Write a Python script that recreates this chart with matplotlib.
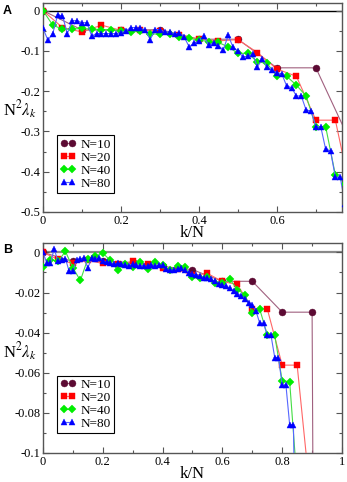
import numpy as np
import matplotlib
matplotlib.use("Agg")
import matplotlib.pyplot as plt
from matplotlib.ticker import MultipleLocator

plt.rcParams['font.family'] = ['Liberation Serif', 'DejaVu Serif']
plt.rcParams['mathtext.fontset'] = 'stix'

# Panel A: N^2 lambda_k vs k/N
a_n10 = [0, -0.048, -0.049, -0.047, -0.071, -0.071, -0.142, -0.142, -0.35]
a_n20 = [0, -0.042, -0.053, -0.036, -0.049, -0.048, -0.051, -0.060, -0.071,
         -0.075, -0.072, -0.104, -0.145, -0.163, -0.272, -0.272, -0.50]
a_n40 = [0, -0.036, -0.046, -0.046, -0.044, -0.046, -0.047, -0.047, -0.050,
         -0.054, -0.050, -0.057, -0.059, -0.059, -0.065, -0.069, -0.073,
         -0.077, -0.079, -0.090, -0.106, -0.106, -0.127, -0.131, -0.163,
         -0.163, -0.185, -0.212, -0.288, -0.288, -0.408, -0.43]
a_n80 = [-0.044, -0.073, -0.057, -0.011, -0.013, -0.057, -0.025, -0.025,
         -0.030, -0.030, -0.063, -0.057, -0.057, -0.057, -0.057, -0.057,
         -0.055, -0.050, -0.042, -0.042, -0.044, -0.048, -0.072, -0.047,
         -0.047, -0.053, -0.053, -0.058, -0.055, -0.066, -0.090, -0.081,
         -0.075, -0.063, -0.086, -0.080, -0.087, -0.098, -0.061, -0.091,
         -0.100, -0.115, -0.113, -0.108, -0.139, -0.121, -0.139, -0.148,
         -0.154, -0.157, -0.187, -0.191, -0.212, -0.212, -0.247, -0.249,
         -0.288, -0.288, -0.344, -0.348, -0.414, -0.414, -0.48]

# Panel B
b_n10 = [0, -0.0045, -0.0045, -0.005, -0.007, -0.0086, -0.0144, -0.0144,
         -0.0298, -0.0298, -3.0]
b_n20 = [0, -0.0035, -0.0055, -0.004, -0.0055, -0.006, -0.0045, -0.006,
         -0.008, -0.0085, -0.0115, -0.0105, -0.0145, -0.016, -0.0281,
         -0.0281, -0.0562, -0.0562, -0.13]
b_n40 = [-0.0072, -0.0036, -0.0045, 0.0005, -0.0077, -0.0140, -0.0031,
         -0.0019, -0.0003, -0.0040, -0.0089, -0.0060, -0.0075, -0.0050,
         -0.0085, -0.0050, -0.0065, -0.0090, -0.0070, -0.0075, -0.0125,
         -0.0130, -0.0125, -0.0155, -0.0155, -0.0135, -0.0185, -0.0210,
         -0.0300, -0.0284, -0.0410, -0.0413, -0.0640, -0.0645, -0.1150]
b_n80 = [0, -0.0053, -0.0053, 0.0018, -0.0045, -0.0040, -0.0031, -0.0094,
         -0.0094, -0.0036, -0.0031, -0.0028, -0.0077, -0.0030, -0.0031,
         -0.0030, -0.0041, -0.0050, -0.0055, -0.0060, -0.0055, -0.0058,
         -0.0062, -0.0066, -0.0060, -0.0063, -0.0068, -0.0066, -0.0070,
         -0.0063, -0.0068, -0.0063, -0.0065, -0.0085, -0.0090, -0.0088,
         -0.0082, -0.0078, -0.0090, -0.0105, -0.0108, -0.0112, -0.0118,
         -0.0127, -0.0127, -0.0135, -0.0144, -0.0160, -0.0165, -0.0168,
         -0.0177, -0.0193, -0.0205, -0.0215, -0.0231, -0.0251, -0.0262,
         -0.0293, -0.0354, -0.0354, -0.0413, -0.0413, -0.0524, -0.0524,
         -0.0662, -0.0662, -0.0860, -0.0860, -0.2000]

sizes = [10, 20, 40, 80]
labels = ["N=10", "N=20", "N=40", "N=80"]
mk_colors = ["#5c0a33", "#ff0000", "#00ee00", "#0000ff"]
ln_colors = ["#a0607f", "#ff6666", "#44dd44", "#5566ff"]
markers = ["o", "s", "D", "^"]
msizes = [5.0, 4.2, 3.6, 4.6]

fig = plt.figure(figsize=(3.47, 4.82), dpi=100)
axA = fig.add_axes([0.1239, 0.5602, 0.8617, 0.4336])
axB = fig.add_axes([0.1239, 0.0602, 0.8617, 0.4357])

frame = "#555555"


def fmt(v, pos):
    v = round(v, 6) + 0.0
    return "0" if v == 0 else f"{v:g}"


def draw(ax, series, xmax, ylim, ymaj, ymin, zero_color, zero_lw, legend_y, lab_y):
    ax.axhline(0, color=zero_color, lw=zero_lw, zorder=1)
    for vals, n, lab, mc, lc, m, ms in zip(series, sizes, labels, mk_colors,
                                           ln_colors, markers, msizes):
        k = np.arange(len(vals))
        ax.plot(k / n, vals, color=lc, lw=0.8, marker=m, ms=ms,
                mfc=mc, mec=mc, mew=0.3, label=lab, zorder=3)
    ax.set_xlim(0, xmax)
    ax.set_ylim(*ylim)
    ax.xaxis.set_major_locator(MultipleLocator(0.2))
    ax.xaxis.set_minor_locator(MultipleLocator(0.1))
    ax.yaxis.set_major_locator(MultipleLocator(ymaj))
    ax.yaxis.set_minor_locator(MultipleLocator(ymin))
    ax.xaxis.set_major_formatter(fmt)
    ax.yaxis.set_major_formatter(fmt)
    ax.tick_params(which="both", direction="in", top=True, right=True,
                   color=frame, width=0.8, labelsize=9, pad=2)
    ax.tick_params(which="major", length=4.5)
    ax.tick_params(which="minor", length=2.5)
    for s in ax.spines.values():
        s.set_color(frame)
        s.set_linewidth(1.0)
    ax.set_xlabel("k/N", fontsize=12, labelpad=-1)
    ax.text(-0.134, lab_y, r"N$^2\lambda_k$", transform=ax.transAxes,
            ha="left", va="center", fontsize=12)
    leg = ax.legend(loc="lower left", bbox_to_anchor=(0.047, legend_y),
                    borderaxespad=0, numpoints=2, fontsize=9.5,
                    handlelength=1.2, handletextpad=0.3, labelspacing=0.05,
                    borderpad=0.25, fancybox=False, framealpha=1)
    leg.get_frame().set_edgecolor("black")
    leg.get_frame().set_linewidth(0.8)


draw(axA, [a_n10, a_n20, a_n40, a_n80], 0.767, (-0.5, 0.019), 0.1, 0.05,
     "black", 1.0, 0.091, 0.488)
draw(axB, [b_n10, b_n20, b_n40, b_n80], 1.0, (-0.1, 0.0047), 0.02, 0.01,
     "#888888", 1.6, 0.095, 0.48)

fig.text(0.008, 0.99, "A", ha="left", va="top", fontsize=9,
         fontweight="bold", family="Liberation Sans")
fig.text(0.008, 0.494, "B", ha="left", va="top", fontsize=9,
         fontweight="bold", family="Liberation Sans")

fig.savefig("out.png", dpi=100)
